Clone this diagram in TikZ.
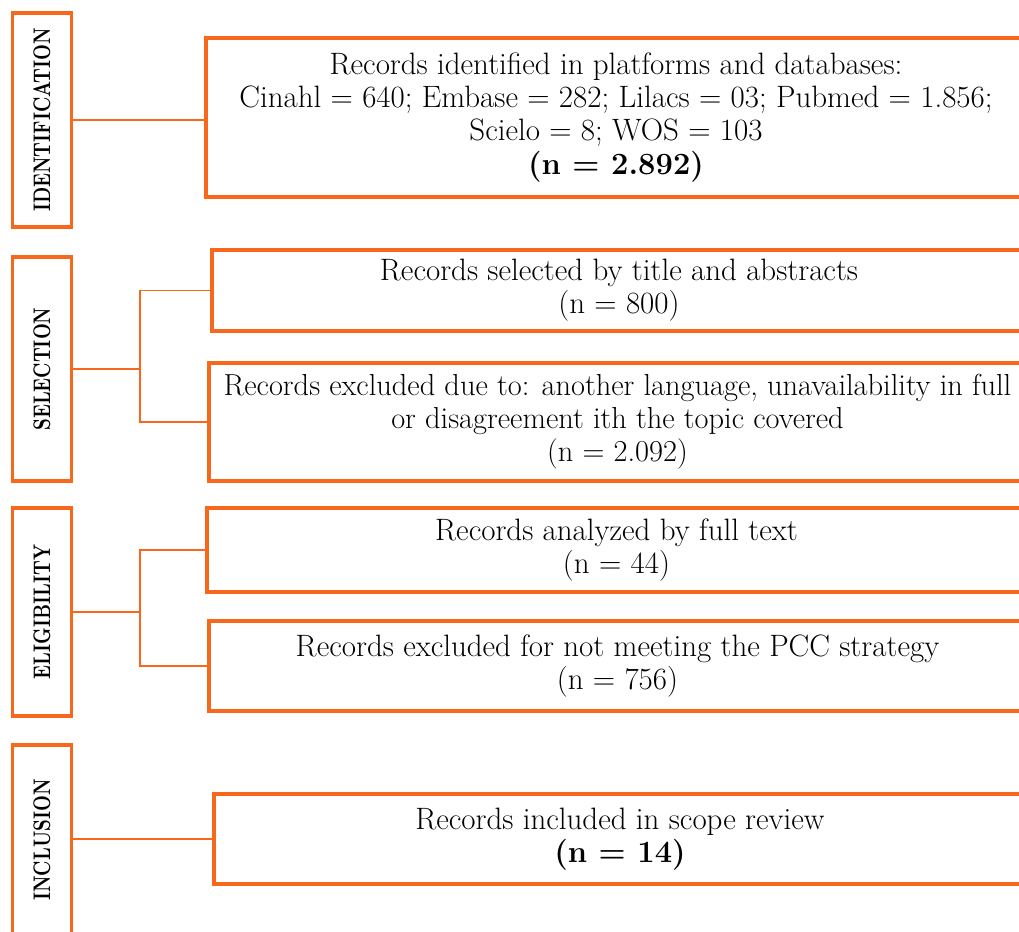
\documentclass[tikz,border=0pt]{standalone}
\usepackage{tikz}
\definecolor{prisma}{RGB}{247,104,28}
\newcommand{\stagetext}[1]{\rotatebox{90}{\scalebox{1}[1.3]{#1}}}
\tikzset{
	stage/.style={draw=prisma, line width=2pt, minimum width=1.18cm, inner sep=0pt,
		font=\fontsize{10.5}{12}\selectfont\bfseries},
	record/.style={draw=prisma, line width=2pt, inner sep=0pt, align=center,
		font=\fontsize{17.6}{18.8}\selectfont},
	link/.style={draw=prisma, line width=1.1pt},
}
\begin{document}
\begin{tikzpicture}[x=0.02cm, y=-0.02cm]
	\useasboundingbox (0,0) rectangle (1019,932);
	\clip (0,0) rectangle (1019,932);
	\coordinate (jx) at (140,0);

	% les etapes
	\node[stage, minimum height=4.28cm] (ident) at (42,120) {\stagetext{IDENTIFICATION}};
	\node[stage, minimum height=4.48cm] (sel) at (42,369) {\stagetext{SELECTION}};
	\node[stage, minimum height=4.16cm] (elig) at (42,612) {\stagetext{ELIGIBILITY}};
	\node[stage, minimum height=3.8cm] (incl) at (42,840) {\stagetext{INCLUSION}};

	% les enregistrements
	\node[record, minimum width=16.4cm, minimum height=3.18cm] (idbox) at (616,117.5)
		{Records identified in platforms and databases:\\
		Cinahl = 640; Embase = 282; Lilacs = 03; Pubmed = 1.856;\\
		Scielo = 8; WOS = 103\\
		\textbf{(n = 2.892)}};
	\node[record, minimum width=16.28cm, minimum height=1.62cm] (selin) at (619,290.5)
		{Records selected by title and abstracts\\(n = 800)};
	\node[record, minimum width=16.34cm, minimum height=2.36cm,
		font=\fontsize{17.3}{18.8}\selectfont] (selout) at (617.5,422)
		{Records excluded due to: another language, unavailability in full\\
		or disagreement ith the topic covered\\(n = 2.092)};
	\node[record, minimum width=16.38cm, minimum height=1.68cm] (eligin) at (616.5,550)
		{Records analyzed by full text\\(n = 44)};
	\node[record, minimum width=16.34cm, minimum height=1.8cm] (eligout) at (617.5,666)
		{Records excluded for not meeting the PCC strategy\\(n = 756)};
	\node[record, minimum width=16.24cm, minimum height=1.8cm] (inclin) at (620,839)
		{Records included in scope review\\\textbf{(n = 14)}};

	% les liens
	\draw[link] (ident.east) -- (ident.east -| idbox.west);
	\draw[link] (sel.east) -- (sel.east -| jx) |- (selin.west);
	\draw[link] (sel.east -| jx) |- (selout.west);
	\draw[link] (elig.east) -- (elig.east -| jx) |- (eligin.west);
	\draw[link] (elig.east -| jx) |- (eligout.west);
	\draw[link] (incl.east |- inclin.west) -- (inclin.west);

\end{tikzpicture}
\end{document}
